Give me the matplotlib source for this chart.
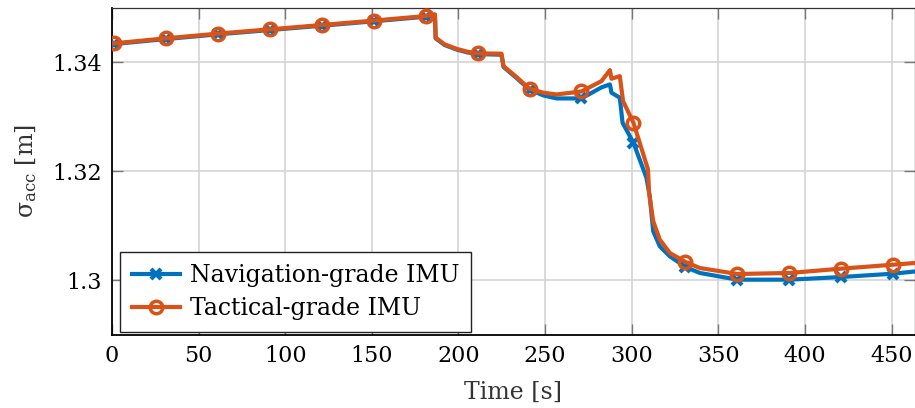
import numpy as np
import matplotlib
matplotlib.use("Agg")
import matplotlib.pyplot as plt
from matplotlib.legend_handler import HandlerLine2D

# datos
t_tac = [1, 31, 61, 91, 121, 151, 181, 186.4, 186.8, 192, 199, 205, 211, 224.8, 226,
         233, 241, 249, 256.6, 271, 282.5, 287.4, 288.3, 293.1, 295, 301, 309.4,
         310, 312.4, 316.2, 322, 331, 339.3, 361, 391, 421, 451, 464]
v_tac = [1.34343, 1.34435, 1.34521, 1.34600, 1.34679, 1.34760, 1.34844, 1.34875, 1.34448,
         1.34325, 1.34242, 1.34191, 1.34160, 1.34154, 1.33927, 1.33740, 1.33512, 1.33439,
         1.33407, 1.33462, 1.33651, 1.33853, 1.33695, 1.33743, 1.33284, 1.32888, 1.32031,
         1.31604, 1.31083, 1.30747, 1.30502, 1.30338, 1.30227, 1.30117, 1.30136, 1.30215,
         1.30288, 1.30320]

t_nav = [1, 31, 61, 91, 121, 151, 181, 186.4, 186.8, 192, 199, 205, 211, 224.8, 226,
         233, 241, 249, 256.6, 271, 282.5, 287.4, 288.3, 293.1, 294.7, 301, 308.5,
         310.4, 312.4, 316.2, 322, 331, 339.3, 361, 391, 421, 451, 464]
v_nav = [1.34330, 1.34422, 1.34508, 1.34587, 1.34666, 1.34747, 1.34831, 1.34862, 1.34435,
         1.34312, 1.34229, 1.34178, 1.34147, 1.34135, 1.33910, 1.33722, 1.33495, 1.33389,
         1.33334, 1.33334, 1.33536, 1.33591, 1.33439, 1.33347, 1.32888, 1.32521, 1.31879,
         1.31541, 1.30899, 1.30624, 1.30440, 1.30246, 1.30136, 1.30013, 1.30013, 1.30062,
         1.30123, 1.30165]

t_marcas = [1, 31, 61, 91, 121, 151, 181, 211, 241, 271, 301, 331, 361, 391, 421, 451]

azul = "#0072BD"
naranja = "#D95319"


# marcador al inicio de la linea en la leyenda (como matlab)
class HandlerIzq(HandlerLine2D):
    def get_xdata(self, legend, xdescent, ydescent, width, height, fontsize):
        xd = np.array([-xdescent, -xdescent + width])
        return xd, np.array([-xdescent])


plt.rcParams["font.family"] = "DejaVu Serif"
plt.rcParams["mathtext.fontset"] = "dejavuserif"

fig = plt.figure(figsize=(9.15, 4.08), dpi=100)
ax = fig.add_axes([0.1224, 0.179, 1.0 - 0.1224, 0.9816 - 0.179])

idx_nav = [t_nav.index(m) for m in t_marcas]
idx_tac = [t_tac.index(m) for m in t_marcas]

l1, = ax.plot(t_nav, v_nav, color=azul, lw=3, marker="x", ms=6.5, mew=3,
              markevery=idx_nav, label="Navigation-grade IMU", zorder=3)
l2, = ax.plot(t_tac, v_tac, color=naranja, lw=3, marker="o", ms=9, mew=2.5,
              mfc="none", markevery=idx_tac, label="Tactical-grade IMU", zorder=4)

ax.set_xlim(0, 463.5)
ax.set_ylim(1.29, 1.35)
ax.set_xticks(np.arange(0, 451, 50))
ax.set_yticks([1.30, 1.32, 1.34])
ax.set_yticklabels(["1.3", "1.32", "1.34"])

ax.grid(True, color="#d4d4d4", lw=1.2)
ax.set_axisbelow(True)
ax.tick_params(direction="in", length=8, width=1, top=True, right=True,
               color="#777777", labelsize=16, pad=7)
for s in ["top", "right"]:
    ax.spines[s].set_color("#333333")
    ax.spines[s].set_linewidth(0.9)
for s in ["left", "bottom"]:
    ax.spines[s].set_linewidth(1.3)

ax.set_xlabel("Time [s]", fontsize=17, color="#333333", labelpad=10)
ax.set_ylabel("σ$_{\\mathrm{acc}}$ [m]", fontsize=17, color="#333333", labelpad=10)

leg = ax.legend(handles=[l1, l2], loc="lower left", bbox_to_anchor=(0.01, 0.01),
                borderaxespad=0, fontsize=17, fancybox=False, edgecolor="#222222",
                framealpha=1, borderpad=0.5, labelspacing=0.42, handlelength=2.05,
                handletextpad=0.4,
                handler_map={l1: HandlerIzq(numpoints=1), l2: HandlerIzq(numpoints=1)})
leg.get_frame().set_linewidth(1)

fig.savefig("out.png", dpi=100)
